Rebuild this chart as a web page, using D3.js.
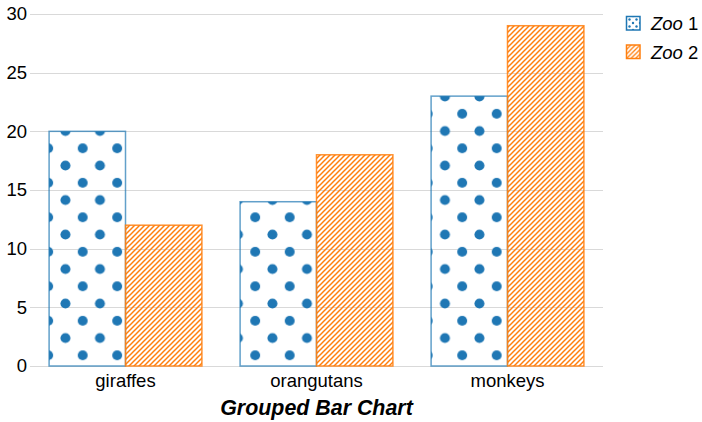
<!DOCTYPE html>
<html>
<head>
<meta charset="utf-8">
<script src="https://cdn.jsdelivr.net/npm/d3@7"></script>
<style>
  html, body { margin: 0; padding: 0; background: #fff; }
  svg { display: block; font-family: "Liberation Sans", Arial, sans-serif; }
</style>
</head>
<body>
<svg id="chart" width="702" height="422"></svg>
<script>
// Animals counted at each zoo
const categories = ["giraffes", "orangutans", "monkeys"];
const seriesNames = ["Zoo 1", "Zoo 2"];
const zoo1 = [20, 14, 23];
const zoo2 = [12, 18, 29];
const yTicks = [0, 5, 10, 15, 20, 25, 30];
const colors = ["#1f77b4", "#ff7f0e"];
const chartTitle = "Grouped Bar Chart";

const series = [zoo1, zoo2];
const bars = [];
categories.forEach((c, ci) => series.forEach((s, si) => bars.push({ cat: c, i: si, v: s[ci] })));

const svg = d3.select("#chart");
const plot = { left: 30, right: 603, top: 14, bottom: 366 };

const x = d3.scaleBand().domain(categories)
  .range([plot.left, plot.right]).paddingInner(0.2).paddingOuter(0.1);
const xs = d3.scaleBand().domain(d3.range(series.length)).range([0, x.bandwidth()]);
const y = d3.scaleLinear().domain([0, 30]).range([plot.bottom, plot.top]);

// Fill patterns: polka dots for Zoo 1, diagonal hatching for Zoo 2
const defs = svg.append("defs");
function dotPattern(id, size, r, ox, oy) {
  const p = defs.append("pattern").attr("id", id)
    .attr("patternUnits", "userSpaceOnUse")
    .attr("x", ox).attr("y", oy).attr("width", size).attr("height", size);
  [[0, 0], [size, 0], [0, size], [size, size], [size / 2, size / 2]].forEach(([cx, cy]) =>
    p.append("circle").attr("cx", cx).attr("cy", cy).attr("r", r).attr("fill", colors[0]));
}
function hatchPattern(id, size, w, ox, oy) {
  const p = defs.append("pattern").attr("id", id)
    .attr("patternUnits", "userSpaceOnUse")
    .attr("x", ox).attr("y", oy).attr("width", size).attr("height", size);
  const s = size;
  p.append("path")
    .attr("d", `M${-s / 4},${s / 4}l${s / 2},${-s / 2}M0,${s}l${s},${-s}M${3 * s / 4},${5 * s / 4}l${s / 2},${-s / 2}`)
    .attr("stroke", colors[1]).attr("stroke-width", w).attr("fill", "none");
}
dotPattern("dots", 34.5, 5, 48.2, 10.3);
hatchPattern("hatch", 5, 1.5, 0, 0);
dotPattern("dotsLegend", 7, 1.2, 626, 16);
hatchPattern("hatchLegend", 4.5, 1.3, 626, 44);
const fills = ["url(#dots)", "url(#hatch)"];
const legendFills = ["url(#dotsLegend)", "url(#hatchLegend)"];

// Horizontal grid lines
svg.append("g").selectAll("line").data(yTicks).join("line")
  .attr("x1", plot.left).attr("x2", plot.right)
  .attr("y1", d => Math.round(y(d)) + 0.5).attr("y2", d => Math.round(y(d)) + 0.5)
  .attr("stroke", "#d9d9d9").attr("stroke-width", 1);

// Y axis labels
const yAxis = d3.axisLeft(y).tickValues(yTicks).tickSize(0).tickPadding(3);
svg.append("g").attr("transform", `translate(${plot.left},0)`).call(yAxis)
  .call(g => g.select(".domain").remove())
  .call(g => g.selectAll("text").attr("font-size", 18.5).attr("fill", "#000")
    .attr("font-family", "'Liberation Sans', Arial, sans-serif"));

// Bars (positioned in the svg's own coordinates so the fill patterns line up across bars)
svg.append("g").selectAll("rect").data(bars).join("rect")
  .attr("x", d => x(d.cat) + xs(d.i))
  .attr("width", xs.bandwidth())
  .attr("y", d => y(d.v))
  .attr("height", d => y(0) - y(d.v))
  .attr("fill", d => fills[d.i])
  .attr("stroke", d => colors[d.i])
  .attr("stroke-opacity", d => d.i === 0 ? 0.7 : 0.85)
  .attr("stroke-width", 1.5);

// Category labels
const xAxis = d3.axisBottom(x).tickSize(0).tickPadding(8);
svg.append("g").attr("transform", `translate(0,${plot.bottom})`).call(xAxis)
  .call(g => g.select(".domain").remove())
  .call(g => g.selectAll("text").attr("font-size", 18.5).attr("fill", "#000")
    .attr("font-family", "'Liberation Sans', Arial, sans-serif"));

// Axis title
svg.append("text")
  .attr("x", (plot.left + plot.right) / 2).attr("y", 415)
  .attr("text-anchor", "middle")
  .attr("font-size", 21.4).attr("font-weight", "bold").attr("font-style", "italic")
  .text(chartTitle);

// Legend
const legend = svg.append("g").selectAll("g").data(seriesNames).join("g")
  .attr("transform", (d, i) => `translate(0,${i * 28.5})`);
legend.append("rect")
  .attr("x", 626.5).attr("y", 16.5).attr("width", 13.5).attr("height", 13.5)
  .attr("fill", (d, i) => legendFills[i])
  .attr("stroke", (d, i) => colors[i]).attr("stroke-width", 1.5);
legend.append("text")
  .attr("x", 651).attr("y", 30)
  .attr("font-size", 18.5)
  .each(function (d) {
    const [word, num] = d.split(" ");
    const t = d3.select(this);
    t.append("tspan").attr("font-style", "italic").text(word);
    t.append("tspan").text(" " + num);
  });
</script>
</body>
</html>
